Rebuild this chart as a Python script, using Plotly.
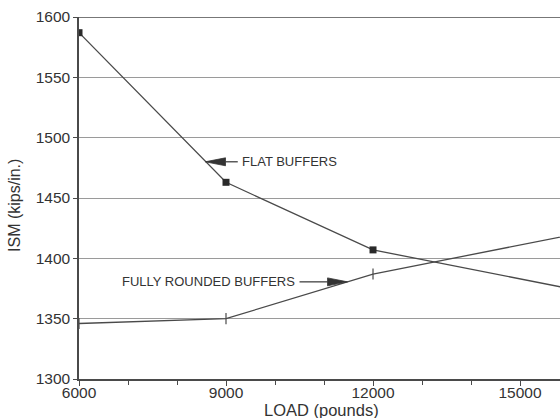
import plotly.graph_objects as go

# Load in pounds and the measured stiffness (kips/in.) for each buffer type
loads = [6000, 9000, 12000, 18000]
flat_buffers = [1587, 1463, 1407, 1359]
rounded_buffers = [1346, 1350, 1387, 1435]

x_ticks = [6000, 9000, 12000, 15000]
y_ticks = [1300, 1350, 1400, 1450, 1500, 1550, 1600]

LINE = "#4a4a4a"
GRID = "#9a9a9a"
INK = "#333"
FONT = "Liberation Sans, Arial, sans-serif"

fig = go.Figure()

fig.add_trace(go.Scatter(
    x=loads, y=flat_buffers, mode="lines+markers", name="FLAT BUFFERS",
    line=dict(color=LINE, width=1.3),
    marker=dict(symbol="square", size=7, color="#2a2a2a"),
    cliponaxis=True,
))
fig.add_trace(go.Scatter(
    x=loads, y=rounded_buffers, mode="lines+markers", name="FULLY ROUNDED BUFFERS",
    line=dict(color=LINE, width=1.3),
    marker=dict(symbol="line-ns-open", size=8, line=dict(color="#2a2a2a", width=1.2)),
    cliponaxis=True,
))


def callout_arrow(tip_x, base_x, tail_x, y, half_h=3.3):
    """Long narrow filled arrowhead with a short shaft, in data units."""
    fig.add_shape(type="line", xref="x", yref="y", x0=tail_x, x1=base_x, y0=y, y1=y,
                  line=dict(color=INK, width=1.2))
    fig.add_shape(type="path", xref="x", yref="y",
                  path=f"M {tip_x},{y} L {base_x},{y + half_h} L {base_x},{y - half_h} Z",
                  fillcolor=INK, line=dict(color=INK, width=0.8))


# Callout labels with arrows pointing at each curve
fig.add_annotation(x=9290, y=1480, text="FLAT BUFFERS", showarrow=False,
                   xanchor="left", yanchor="middle",
                   font=dict(family=FONT, size=13, color=INK))
callout_arrow(tip_x=8577, base_x=8990, tail_x=9240, y=1480)

fig.add_annotation(x=10440, y=1380.5, text="FULLY ROUNDED BUFFERS", showarrow=False,
                   xanchor="right", yanchor="middle",
                   font=dict(family=FONT, size=13, color=INK))
callout_arrow(tip_x=11481, base_x=11072, tail_x=10500, y=1380.5)

# Axis titles
fig.add_annotation(xref="paper", yref="paper", x=0.505, y=-0.0856,
                   text="LOAD (pounds)", showarrow=False,
                   xanchor="center", yanchor="middle",
                   font=dict(family=FONT, size=16.5, color=INK))
fig.add_annotation(xref="paper", yref="paper", x=-0.133, y=0.478,
                   text="ISM (kips/in.)", showarrow=False, textangle=-90,
                   xanchor="center", yanchor="middle",
                   font=dict(family=FONT, size=16, color=INK))

fig.update_layout(
    width=560, height=418,
    margin=dict(l=79, r=0, t=17, b=39),
    paper_bgcolor="white", plot_bgcolor="white",
    showlegend=False,
    font=dict(family=FONT, color=INK),
)

fig.update_xaxes(
    range=[6000, 15816], tickvals=x_ticks, ticktext=[str(v) for v in x_ticks],
    showgrid=False, zeroline=False, automargin=False,
    showline=True, linecolor=LINE, linewidth=1.5,
    ticks="outside", ticklen=5, tickcolor=LINE,
    minor=dict(dtick=1000, tick0=6000, ticks="outside", ticklen=4, tickcolor=LINE, showgrid=False),
    tickfont=dict(family=FONT, size=15.5, color=INK),
    ticklabelstandoff=-6,
)
fig.update_yaxes(
    range=[1300, 1600], tickvals=y_ticks, ticktext=[str(v) for v in y_ticks],
    showgrid=True, gridcolor=GRID, gridwidth=1.4, zeroline=False, automargin=False,
    showline=True, linecolor=LINE, linewidth=1.5, mirror=False,
    ticks="outside", ticklen=4, tickcolor=LINE,
    tickfont=dict(family=FONT, size=15.5, color=INK),
)

# Top border of the plotting area
fig.add_shape(type="line", xref="paper", yref="y", x0=0, x1=1, y0=1600, y1=1600,
              line=dict(color=LINE, width=1.5))

fig.write_html("out.html")
